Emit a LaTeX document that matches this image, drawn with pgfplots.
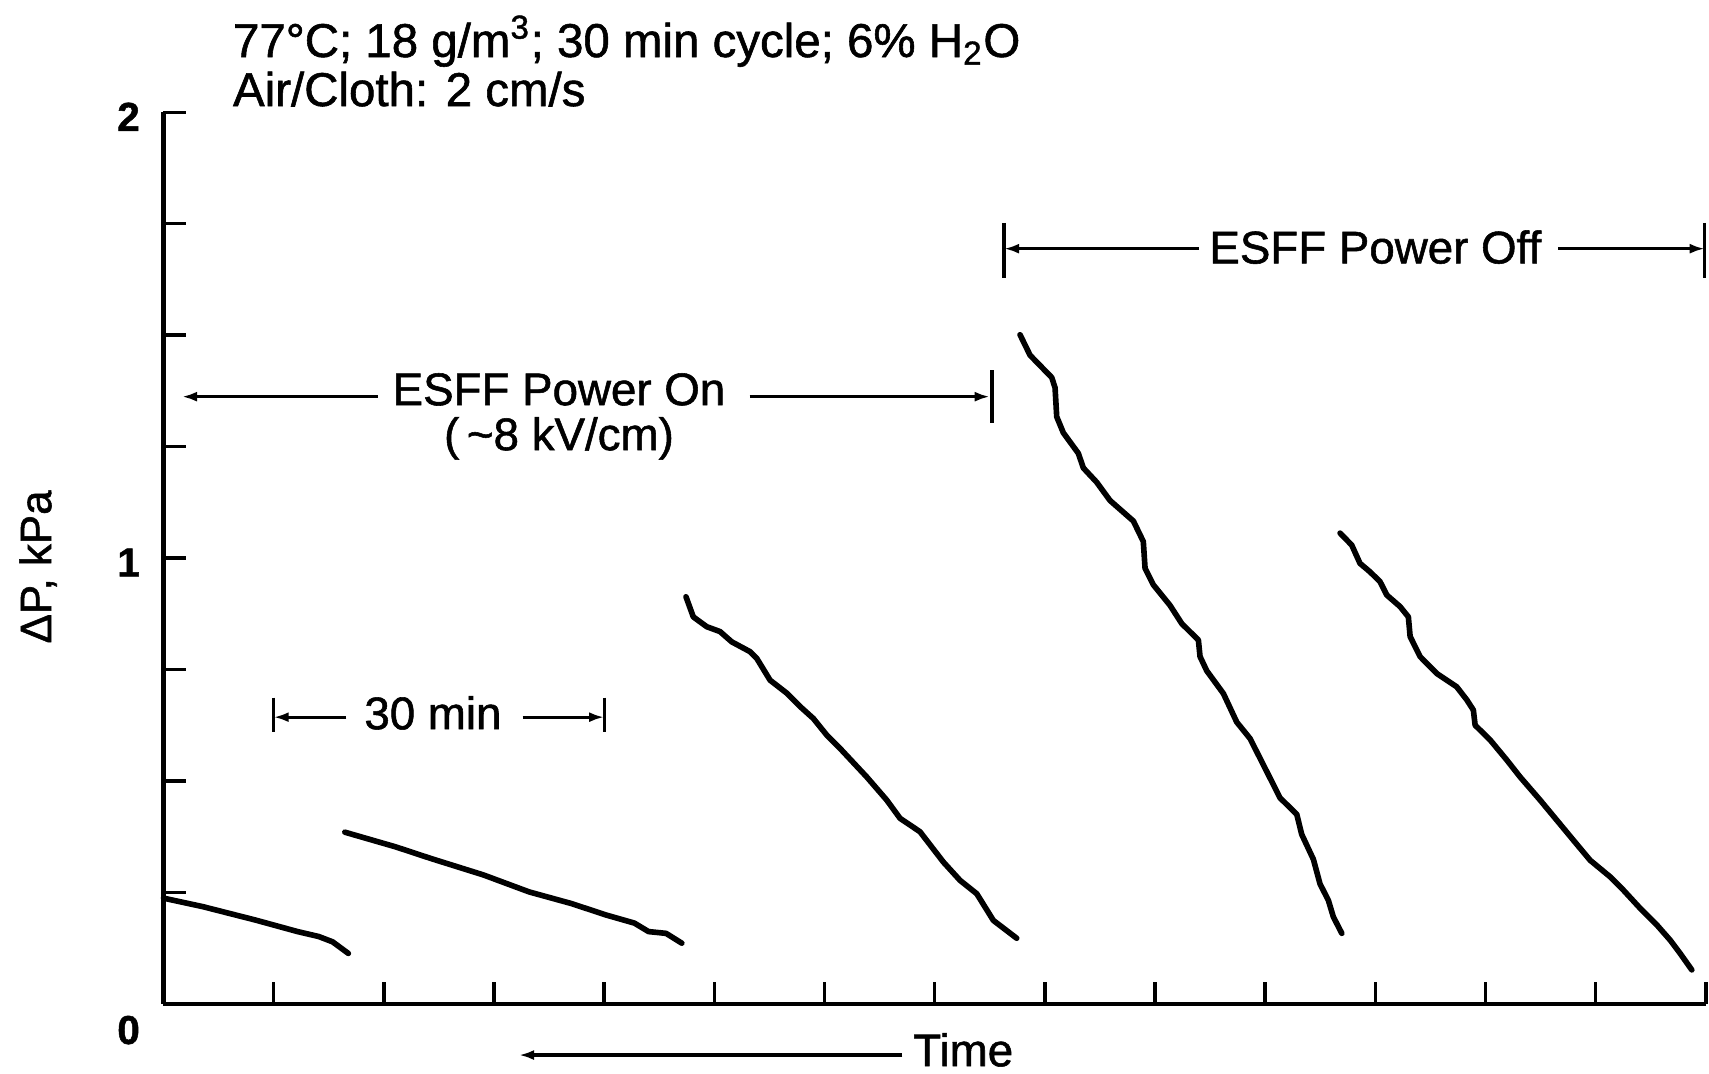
\documentclass[border=0pt]{standalone}
\usepackage{fontspec}
\setmainfont{Liberation Sans}[FakeBold=1.2]
\newfontfamily\heavy{Liberation Sans}[FakeBold=1.2, AutoFakeBold=1.2]
\usepackage{pgfplots}
\pgfplotsset{compat=1.18}
\usetikzlibrary{arrows.meta}

\tikzset{
  curve/.style={black, line width=1.6pt, line cap=round, line join=round},
  dim/.style={black, line width=0.9pt, -{Latex[length=0.15cm,width=0.10cm]}},
  bar/.style={black, line width=0.9pt},
  lbl/.style={inner sep=0pt},
}
\newcommand{\annfont}{\heavy\fontsize{13}{15.6}\selectfont}

\begin{document}
\begin{tikzpicture}
  % page frame, in the reference's proportions
  \path (-1.635,-0.702) rectangle (15.455,10.038);
  \begin{axis}[
    at={(0,0)}, anchor=south west,
    scale only axis, width=15.423cm, height=8.915cm,
    xmin=0, xmax=14, ymin=0, ymax=2,
    axis lines=left, axis line style={-, line width=1.2pt},
    xtick={1,...,14}, ytick={0.25,0.5,...,2},
    xticklabels={}, yticklabels={},
    xticklabel style={inner sep=0pt}, yticklabel style={inner sep=0pt},
    tick align=inside, major tick length=0.22cm,
    tick style={black, line width=1pt},
    clip=false,
  ]
    % dP traces, one per stretch of cycles
    \addplot[curve] coordinates {
      (0,0.237) (0.356,0.218) (0.833,0.188) (1.217,0.162) (1.408,0.151)
      (1.535,0.139) (1.678,0.113)};
    \addplot[curve] coordinates {
      (1.646,0.385) (2.108,0.352) (2.427,0.326) (2.905,0.289) (3.319,0.251)
      (3.701,0.225) (4.020,0.199) (4.275,0.181) (4.403,0.162) (4.562,0.158)
      (4.705,0.136)};
    \addplot[curve] coordinates {
      (4.743,0.913) (4.809,0.868) (4.931,0.846) (5.052,0.835) (5.158,0.812)
      (5.324,0.790) (5.385,0.775) (5.506,0.726) (5.657,0.697) (5.778,0.667)
      (5.899,0.640) (6.020,0.603) (6.141,0.573) (6.383,0.509) (6.565,0.457)
      (6.686,0.416) (6.867,0.386) (7.079,0.318) (7.230,0.277) (7.382,0.247)
      (7.533,0.187) (7.745,0.147)};
    \addplot[curve] coordinates {
      (7.775,1.501) (7.866,1.455) (8.063,1.405) (8.093,1.382) (8.108,1.317)
      (8.168,1.281) (8.304,1.235) (8.350,1.202) (8.471,1.170) (8.592,1.129)
      (8.804,1.083) (8.894,1.037) (8.910,0.977) (8.985,0.940) (9.136,0.894)
      (9.243,0.853) (9.394,0.816) (9.409,0.779) (9.470,0.747) (9.621,0.696)
      (9.742,0.632) (9.863,0.595) (9.984,0.536) (10.135,0.462) (10.287,0.425)
      (10.332,0.380) (10.438,0.324) (10.498,0.269) (10.574,0.232) (10.619,0.195)
      (10.696,0.158)};
    \addplot[curve] coordinates {
      (10.680,1.056) (10.786,1.029) (10.861,0.988) (10.952,0.969) (11.043,0.947)
      (11.104,0.917) (11.225,0.891) (11.300,0.868) (11.316,0.824) (11.406,0.779)
      (11.558,0.741) (11.739,0.711) (11.830,0.682) (11.890,0.659) (11.906,0.625)
      (12.042,0.592) (12.193,0.547) (12.314,0.509) (12.496,0.457) (12.647,0.412)
      (12.798,0.367) (12.950,0.322) (13.131,0.285) (13.252,0.255) (13.405,0.214)
      (13.555,0.177) (13.676,0.143) (13.767,0.113) (13.873,0.076)};

    % tick numbers
    \node[lbl, font=\fontsize{11.5}{13}\selectfont\bfseries] at (-0.317,1.99) {2};
    \node[lbl, font=\fontsize{11.5}{13}\selectfont\bfseries] at (-0.317,0.99) {1};
    \node[lbl, font=\fontsize{11.5}{13}\selectfont\bfseries] at (-0.317,-0.059) {0};
    \node[lbl, font=\heavy\fontsize{12.5}{14}\selectfont, rotate=90] at (-1.139,0.98) {ΔP, kPa};

    % conditions
    \node[lbl, font=\heavy\fontsize{13.5}{16}\selectfont, anchor=base west] at (0.625,2.124)
      {77°C; 18 g/m\textsuperscript{3}; 30 min cycle; 6\% H\textsubscript{2}O};
    \node[lbl, font=\heavy\fontsize{13.5}{16}\selectfont, anchor=base west] at (0.625,2.014)
      {Air/Cloth: 2 cm/s};

    % power off span
    \draw[dim] (9.40,1.694) -- (7.63,1.694);
    \draw[dim] (12.66,1.694) -- (13.99,1.694);
    \draw[bar] (7.63,1.752) -- (7.63,1.628);
    \draw[bar] (13.99,1.752) -- (13.99,1.628);
    \node[lbl, font=\annfont, anchor=base] at (11.0,1.661) {ESFF Power Off};

    % power on span
    \draw[dim] (1.947,1.362) -- (0.168,1.362);
    \draw[dim] (5.32,1.362) -- (7.50,1.362);
    \draw[bar] (7.52,1.421) -- (7.52,1.303);
    \node[lbl, font=\annfont, anchor=base] at (3.59,1.343) {ESFF Power On};
    \node[lbl, font=\annfont, anchor=base] at (3.59,1.242) {(\,\textasciitilde 8 kV/cm)};

    % 30 min scale
    \draw[dim] (1.66,0.643) -- (1,0.643);
    \draw[dim] (3.26,0.643) -- (4,0.643);
    \draw[bar] (1,0.687) -- (1,0.609);
    \draw[bar] (4,0.687) -- (4,0.609);
    \node[lbl, font=\annfont, anchor=base] at (2.446,0.616) {30 min};

    % time direction
    \draw[dim] (6.708,-0.115) -- (3.227,-0.115);
    \node[lbl, font=\annfont, anchor=base west] at (6.80,-0.14) {Time};
  \end{axis}
\end{tikzpicture}
\end{document}
